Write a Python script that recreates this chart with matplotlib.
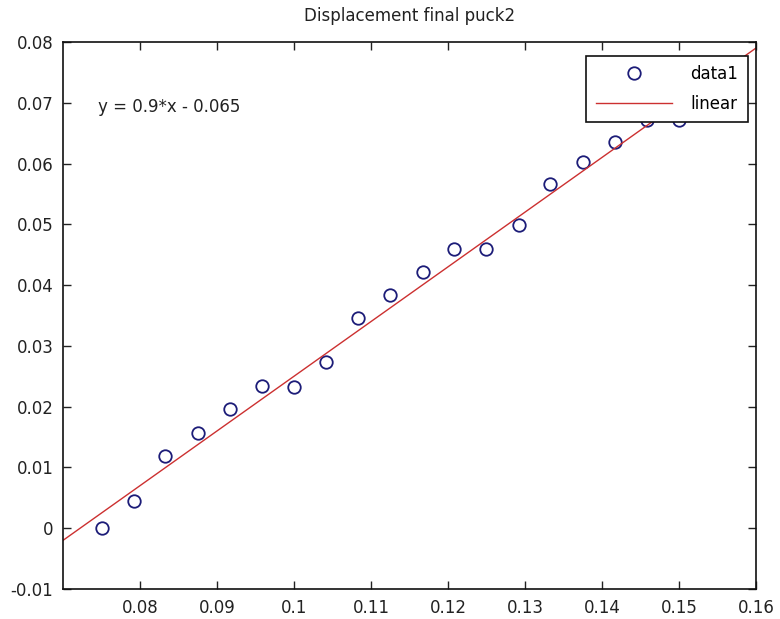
import numpy as np
import matplotlib
matplotlib.use("Agg")
import matplotlib.pyplot as plt

# puck2 final displacement samples
x_vals = [0.0750, 0.0792, 0.0833, 0.0875, 0.0917, 0.0958, 0.1000, 0.1042,
          0.1083, 0.1125, 0.1167, 0.1208, 0.1250, 0.1292, 0.1333, 0.1375,
          0.1417, 0.1458, 0.1500]
y_vals = [0.0000, 0.0044, 0.0118, 0.0157, 0.0196, 0.0234, 0.0233, 0.0274,
          0.0346, 0.0383, 0.0422, 0.0459, 0.0459, 0.0499, 0.0567, 0.0602,
          0.0635, 0.0672, 0.0672]

# linear fit coefficients
slope = 0.9
intercept = -0.065

xticks = [0.08, 0.09, 0.1, 0.11, 0.12, 0.13, 0.14, 0.15, 0.16]
xtick_labels = ["0.08", "0.09", "0.1", "0.11", "0.12", "0.13", "0.14", "0.15", "0.16"]
yticks = [-0.01, 0, 0.01, 0.02, 0.03, 0.04, 0.05, 0.06, 0.07, 0.08]
ytick_labels = ["-0.01", "0", "0.01", "0.02", "0.03", "0.04", "0.05", "0.06", "0.07", "0.08"]

plt.rcParams["font.family"] = ["DejaVu Sans"]

fig = plt.figure(figsize=(7.8, 6.19), dpi=100)
ax = fig.add_axes([0.0808, 0.0485, 0.8884, 0.8837])

ax.plot(x_vals, y_vals, linestyle="none", marker="o", markersize=9,
        markerfacecolor="none", markeredgecolor="#1c1c78", markeredgewidth=1.3,
        label="data1")

xl = np.array([0.07, 0.16])
ax.plot(xl, slope * xl + intercept, color="#cc3030", linewidth=1.0, label="linear")

ax.set_xlim(0.07, 0.16)
ax.set_ylim(-0.01, 0.08)
ax.set_xticks(xticks)
ax.set_xticklabels(xtick_labels)
ax.set_yticks(yticks)
ax.set_yticklabels(ytick_labels)
ax.tick_params(direction="in", length=6, width=1, top=True, right=True,
               labelsize=12, colors="#222222", pad=7)
for s in ax.spines.values():
    s.set_linewidth(1.2)
    s.set_color("#111111")

ax.set_title("Displacement final puck2", fontsize=12, color="#222222", pad=15)

ax.text(0.0745, 0.0693, "y = %.1f*x - %.3f" % (slope, -intercept),
        fontsize=12, color="#222222", va="center", ha="left")

leg = ax.legend(loc="upper right", bbox_to_anchor=(0.988, 0.975), fontsize=12,
                frameon=True, fancybox=False, borderpad=0.55, labelspacing=0.75,
                handlelength=4.6, handletextpad=1.1, borderaxespad=0)
leg.get_frame().set_edgecolor("#111111")
leg.get_frame().set_linewidth(1.2)
leg.get_frame().set_alpha(1)

fig.savefig("out.png", dpi=100)
plt.close(fig)
